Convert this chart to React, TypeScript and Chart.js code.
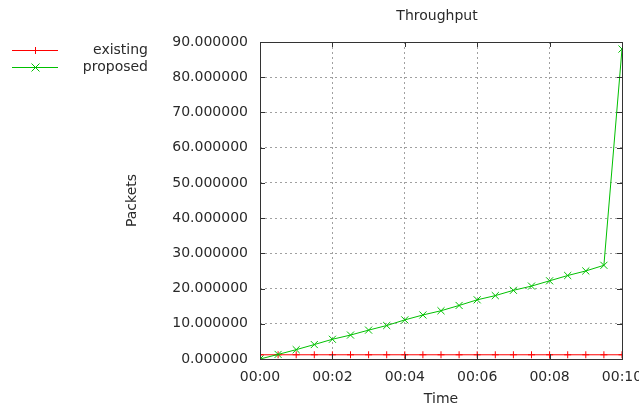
import React, { useEffect, useRef } from "react";
import { Chart, registerables } from "chart.js";

Chart.register(...registerables);

const timesMin = [0, 0.5, 1, 1.5, 2, 2.5, 3, 3.5, 4, 4.5, 5, 5.5, 6, 6.5, 7, 7.5, 8, 8.5, 9, 9.5, 10];
const existing = [1.2, 1.2, 1.2, 1.2, 1.2, 1.2, 1.2, 1.2, 1.2, 1.2, 1.2, 1.2, 1.2, 1.2, 1.2, 1.2, 1.2, 1.2, 1.2, 1.2, 1.2];
const proposed = [0, 1.3, 2.65, 4.1, 5.6, 6.8, 8.2, 9.5, 11.1, 12.5, 13.7, 15.2, 16.8, 18.0, 19.5, 20.7, 22.2, 23.7, 25.0, 26.6, 88.0];
const xTicks = [0, 2, 4, 6, 8, 10];
const yTicks = [0, 10, 20, 30, 40, 50, 60, 70, 80, 90];
const seriesNames = ["existing", "proposed"];
const chartTitle = "Throughput";
const xTitle = "Time";
const yTitle = "Packets";

const FONT = "'DejaVu Sans', sans-serif";
const FS = 14;
const TEXT = "#2a2a2a";
const RED = "#ff0000";
const GREEN = "#00c000";

const framePlugin = {
  id: "gnuframe",
  afterDraw(chart: any) {
    const { ctx, chartArea } = chart;
    const { left, right, top, bottom } = chartArea;
    const xs = chart.scales.x;
    const ys = chart.scales.y;
    ctx.save();
    ctx.strokeStyle = "#333";
    ctx.lineWidth = 1;
    ctx.strokeRect(Math.round(left) + 0.5, Math.round(top) + 0.5, Math.round(right - left), Math.round(bottom - top));
    const tl = 5;
    ctx.beginPath();
    xTicks.forEach((v) => {
      const px = Math.round(xs.getPixelForValue(v)) + 0.5;
      ctx.moveTo(px, bottom);
      ctx.lineTo(px, bottom - tl);
      ctx.moveTo(px, top);
      ctx.lineTo(px, top + tl);
    });
    yTicks.forEach((v) => {
      const py = Math.round(ys.getPixelForValue(v)) + 0.5;
      ctx.moveTo(left, py);
      ctx.lineTo(left + tl, py);
      ctx.moveTo(right, py);
      ctx.lineTo(right - tl, py);
    });
    ctx.stroke();
    ctx.fillStyle = TEXT;
    ctx.font = `${FS}px ${FONT}`;
    ctx.textAlign = "center";
    ctx.textBaseline = "middle";
    ctx.fillText(chartTitle, 437, 16);
    const items = [
      { name: seriesNames[0], color: RED, y: 50, style: "plus" },
      { name: seriesNames[1], color: GREEN, y: 67, style: "x" },
    ];
    items.forEach((it) => {
      ctx.strokeStyle = it.color;
      ctx.lineWidth = 1;
      ctx.beginPath();
      ctx.moveTo(12, it.y + 0.5);
      ctx.lineTo(58, it.y + 0.5);
      if (it.style === "plus") {
        ctx.moveTo(35.5, it.y - 3);
        ctx.lineTo(35.5, it.y + 4);
      } else {
        ctx.moveTo(31.5, it.y - 3.5);
        ctx.lineTo(39.5, it.y + 4.5);
        ctx.moveTo(39.5, it.y - 3.5);
        ctx.lineTo(31.5, it.y + 4.5);
      }
      ctx.stroke();
      ctx.fillStyle = TEXT;
      ctx.textAlign = "right";
      ctx.fillText(it.name, 148, it.y);
    });
    ctx.restore();
  },
};

export default function App() {
  const ref = useRef<HTMLCanvasElement | null>(null);
  useEffect(() => {
    document.body.style.margin = "0";
    const canvas = ref.current!;
    const chart = new Chart(canvas, {
      type: "line",
      data: {
        datasets: [
          {
            label: seriesNames[0],
            data: timesMin.map((t, i) => ({ x: t, y: existing[i] })),
            borderColor: RED,
            backgroundColor: RED,
            borderWidth: 1,
            pointStyle: "cross",
            pointRadius: 3.5,
            pointBorderWidth: 1,
            pointBorderColor: RED,
            tension: 0,
            order: 1,
          },
          {
            label: seriesNames[1],
            data: timesMin.map((t, i) => ({ x: t, y: proposed[i] })),
            borderColor: GREEN,
            backgroundColor: GREEN,
            borderWidth: 1,
            pointStyle: "crossRot",
            pointRadius: 5,
            pointBorderWidth: 1,
            pointBorderColor: GREEN,
            tension: 0,
            order: 0,
          },
        ],
      },
      options: {
        responsive: false,
        animation: false,
        devicePixelRatio: 1,
        layout: { padding: { left: 120, top: 42, right: 17, bottom: 0 } },
        plugins: { legend: { display: false }, title: { display: false }, tooltip: { enabled: false } },
        scales: {
          x: {
            type: "linear",
            min: 0,
            max: 10,
            afterBuildTicks: (s: any) => {
              s.ticks = xTicks.map((v) => ({ value: v }));
            },
            ticks: {
              callback: (v: any) => "00:" + String(v).padStart(2, "0"),
              font: { family: FONT, size: FS },
              color: TEXT,
              padding: 10,
              maxRotation: 0,
              autoSkip: false,
            },
            grid: { color: "#a0a0a0", lineWidth: 1, drawTicks: false },
            border: { display: false, dash: [2, 3] },
            title: {
              display: true,
              text: xTitle,
              font: { family: FONT, size: FS, lineHeight: 1 },
              color: TEXT,
              padding: { top: 0, bottom: -2 },
            },
            afterFit: (s: any) => {
              s.height = 45;
              s.paddingLeft = 0;
              s.paddingRight = 0;
            },
          },
          y: {
            type: "linear",
            min: 0,
            max: 90,
            afterBuildTicks: (s: any) => {
              s.ticks = yTicks.map((v) => ({ value: v }));
            },
            ticks: {
              callback: (v: any) => Number(v).toFixed(6),
              font: { family: FONT, size: FS },
              color: TEXT,
              padding: 12,
              autoSkip: false,
            },
            grid: { color: "#a0a0a0", lineWidth: 1, drawTicks: false },
            border: { display: false, dash: [2, 3] },
            title: {
              display: true,
              text: yTitle,
              font: { family: FONT, size: FS },
              color: TEXT,
              padding: { top: 4, bottom: 0 },
            },
            afterFit: (s: any) => {
              s.width = 140;
              s.paddingTop = 0;
              s.paddingBottom = 0;
            },
          },
        },
      },
      plugins: [framePlugin],
    });
    return () => chart.destroy();
  }, []);
  return (
    <div style={{ position: "absolute", left: 0, top: 0, width: 639, height: 404, background: "#fff" }}>
      <canvas ref={ref} width={639} height={404} />
    </div>
  );
}
